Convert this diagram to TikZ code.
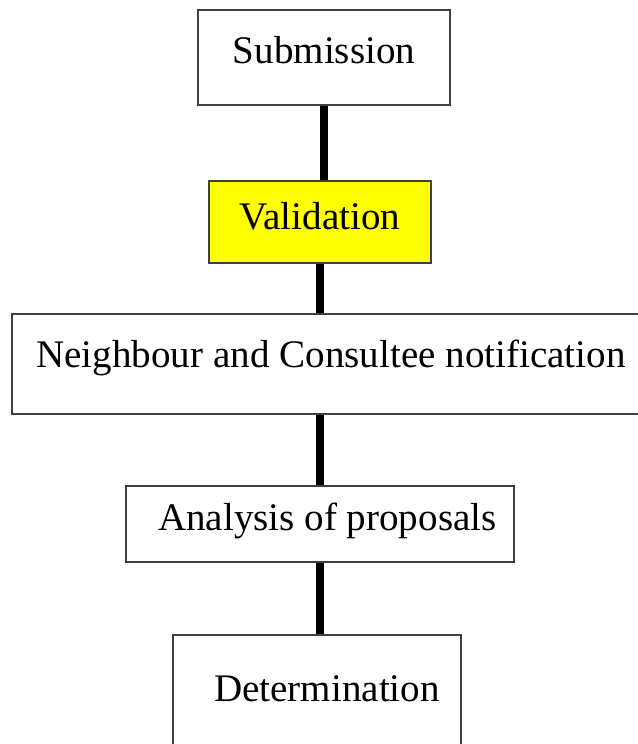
\documentclass[tikz,border=0pt]{standalone}
\usepackage{fontspec}
\setmainfont{Liberation Serif}
\definecolor{markyellow}{RGB}{255,255,0}
\begin{document}
\begin{tikzpicture}[x=0.75pt,y=-0.75pt,font=\fontsize{29.3}{34}\selectfont]
      \tikzstyle{stagenode}=[draw=black!75, line width=1.1pt, inner sep=0pt]
      \tikzstyle{marknode}=[stagenode, fill=markyellow]
      \tikzstyle{link}=[draw, line width=5.5pt]
      \useasboundingbox (0,0) rectangle (637,744);
      \node[stagenode, minimum width=189pt, minimum height=71.25pt, text height=39.75pt, text depth=31.5pt] (sub) at (324,57.5) {Submission};
      \node[marknode, minimum width=166.5pt, minimum height=61.5pt, text height=36pt, text depth=25.5pt] (val) at (320,222) {Validation};
      \node[stagenode, minimum width=478.5pt, minimum height=75pt, text height=39.75pt, text depth=35.25pt] (nbr) at (331,364) {Neighbour and Consultee notification};
      \node[stagenode, minimum width=291pt, minimum height=57pt, text height=33pt, text depth=24pt] (ana) at (320,524) {\hspace*{11pt}Analysis of proposals};
      \node[stagenode, minimum width=216pt, minimum height=93.75pt, text height=49.5pt, text depth=44.25pt] (det) at (317,697.5) {\hspace*{15pt}Determination};
      % connectors
      \draw[link] (sub.south) -- (sub.south |- val.north);
      \draw[link] (val.south) -- (val.south |- nbr.north);
      \draw[link] (ana.north) -- (ana.north |- nbr.south);
      \draw[link] (ana.south) -- (ana.south |- det.north);
\end{tikzpicture}
\end{document}
